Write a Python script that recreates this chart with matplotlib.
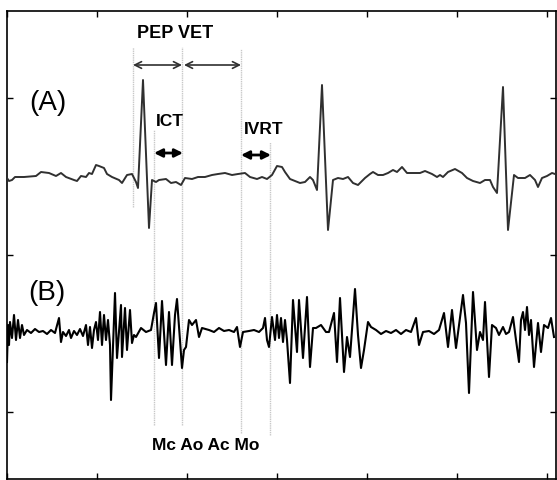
import numpy as np
import matplotlib
matplotlib.use("Agg")
import matplotlib.pyplot as plt

plt.rcParams['font.family'] = ['Liberation Sans', 'DejaVu Sans']

# (A) ECG trace: sample index and amplitude
ecg_t = [0, 2, 5, 8, 17, 29, 34, 42, 49, 54,
         59, 67, 70, 74, 79, 82, 85, 89, 92, 97,
         100, 105, 112, 115, 120, 125, 129, 131, 136, 142,
         145, 149, 152, 159, 164, 169, 174, 178, 185, 191,
         198, 205, 211, 218, 225, 231, 238, 243, 250, 255,
         260, 265, 270, 275, 278, 283, 288, 293, 298, 303,
         306, 310, 315, 321, 326, 331, 336, 341, 346, 351,
         358, 363, 366, 371, 376, 381, 386, 390, 395, 400,
         406, 413, 418, 425, 430, 433, 436, 441, 448, 455,
         460, 466, 473, 478, 483, 486, 490, 496, 501, 507,
         511, 518, 523, 528, 531, 535, 540, 545, 548]
ecg_v = [0, -3, -2, 1, 1, 2, 6, 5, 2, 5,
         1, -2, -3, 2, 1, 5, 4, 13, 12, 10,
         4, 1, -2, -5, 3, 4, -4, -10, 98, -50,
         -2, -4, -2, -1, -5, -4, -7, 0, -1, 1,
         1, 3, 4, 5, 3, 4, 5, 1, -1, 1,
         -1, 3, 12, 11, 6, -1, -3, -5, -4, 1,
         -2, -12, 93, -52, -2, 0, -1, 1, -5, -7,
         0, 4, 6, 3, 3, 5, 8, 6, 11, 5,
         5, 5, 7, 4, 1, 3, 1, 6, 9, 5,
         0, -3, -5, -2, -2, -9, -15, 91, -52, 3,
         0, 0, 3, -2, -9, 0, 2, 5, 4]

# (B) heart sound trace
pcg_t = [0, 1, 2, 3, 5, 7, 9, 11, 13, 15, 17, 20, 24, 28, 32, 36, 40, 44, 48, 52,
         54, 56, 59, 62, 64, 67, 70, 73, 76, 79, 81, 83, 85, 87, 89, 91, 93, 95, 97, 99,
         101, 103, 104, 108, 110, 114, 115, 118, 120, 123, 125, 127, 129, 134, 139, 144,
         147, 149, 152, 155, 159, 162, 165, 168, 170, 173, 175, 177, 179, 182, 185, 189,
         192, 195, 202, 207, 212, 217, 222, 227, 230, 233, 236, 242, 247, 252, 256, 258,
         260, 262, 265, 268, 270, 272, 274, 276, 278, 280, 283, 286, 290, 292, 296, 300,
         303, 306, 309, 314, 319, 322, 327, 330, 333, 337, 340, 343, 348, 351, 354, 357,
         361, 364, 369, 374, 379, 384, 389, 394, 399, 404, 409, 412, 416, 422, 427, 432,
         437, 441, 445, 449, 452, 456, 459, 462, 466, 470, 473, 476, 478, 482, 485, 489,
         492, 496, 499, 502, 506, 509, 512, 514, 516, 518, 520, 522, 524, 527, 531, 534,
         537, 541, 544, 547]
pcg_v = [-32, 5, -15, 8, -8, 15, -10, 10, -8, 5, -5, 0, -3, 1, -2, -1, -4, 0, -3, 12,
         -12, -2, -6, 0, -8, -1, -5, 1, -6, 5, -15, 3, -18, 0, 8, -10, 18, -15, 15, -10,
         10, -15, -70, 37, -28, 25, -27, 22, -20, 20, -13, -5, -7, 2, -2, 0,
         17, 27, -28, 29, -35, 18, -35, 15, 31, -10, -38, -20, -17, 10, 5, 10,
         -7, 2, 0, -2, 2, -1, 0, -2, 3, -17, -2, -1, 0, -2, 2, 12,
         -10, -17, 13, -10, 15, -8, 12, -12, 10, -10, -53, 30, -22, 30, -28, 33,
         -37, 2, 2, 5, -2, -2, 17, -32, 32, -42, -7, -27, 41, -5, -38, -20,
         8, 3, 0, -4, -1, -3, 0, -4, 0, -2, 12, -15, -2, -1, -4, 0,
         17, -17, 20, -18, 5, 35, 7, -63, 38, -20, -2, -10, 28, -47, 5, 2,
         -5, 3, -4, -2, 13, -10, -32, 10, 18, 0, 23, -5, 10, -37, 7, -22,
         5, 2, 12, -7]

# cardiac event markers
event_t = [126, 147, 175, 234, 263]
event_top = [365, 282, 365, 363, 270]
event_bottom = [205, -13, -13, -21, -23]

ecg_base = 234
pcg_base = 82

fig = plt.figure(figsize=(5.57, 4.80), dpi=100)
ax = fig.add_axes([7 / 557, 1 / 480, 549 / 557, 468 / 480])

for t, y0, y1 in zip(event_t, event_bottom, event_top):
    ax.plot([t, t], [y0, y1], color='#c8c8c8', lw=1.0, ls=(0, (1, 0.6)), zorder=1)

ax.plot(ecg_t, np.array(ecg_v) + ecg_base, color='#303030', lw=1.4, zorder=3)
ax.plot(pcg_t, np.array(pcg_v) + pcg_base, color='black', lw=1.5, zorder=3)

thin = dict(arrowstyle='<->', color='#303030', lw=1.2, shrinkA=0, shrinkB=0,
            mutation_scale=12)
bold = dict(arrowstyle='<|-|>', color='black', lw=2.0, shrinkA=0, shrinkB=0,
            mutation_scale=12)
ax.annotate('', xy=(126, 347), xytext=(175, 347), arrowprops=thin)
ax.annotate('', xy=(177, 347), xytext=(234, 347), arrowprops=thin)
ax.annotate('', xy=(147, 259), xytext=(176, 259), arrowprops=bold)
ax.annotate('', xy=(234, 257), xytext=(264, 257), arrowprops=bold)

ax.text(168, 379, 'PEP VET', ha='center', va='center', fontsize=13, fontweight='bold')
ax.text(163, 290, 'ICT', ha='center', va='center', fontsize=12.5, fontweight='bold')
ax.text(257, 282, 'IVRT', ha='center', va='center', fontsize=12.5, fontweight='bold')
ax.text(199, -33, 'Mc Ao Ac Mo', ha='center', va='center', fontsize=12.5, fontweight='bold')
ax.text(41, 309, '(A)', ha='center', va='center', fontsize=20)
ax.text(40, 119, '(B)', ha='center', va='center', fontsize=20)

ax.set_xlim(0, 549)
ax.set_ylim(-67, 401)
ax.set_xticks(np.arange(0, 541, 90))
ax.set_yticks([0, 157, 314])
ax.tick_params(direction='in', length=4, width=1, top=True, right=True,
               labelbottom=False, labelleft=False)
for s in ax.spines.values():
    s.set_linewidth(1.2)

fig.savefig('out.png', dpi=100)
